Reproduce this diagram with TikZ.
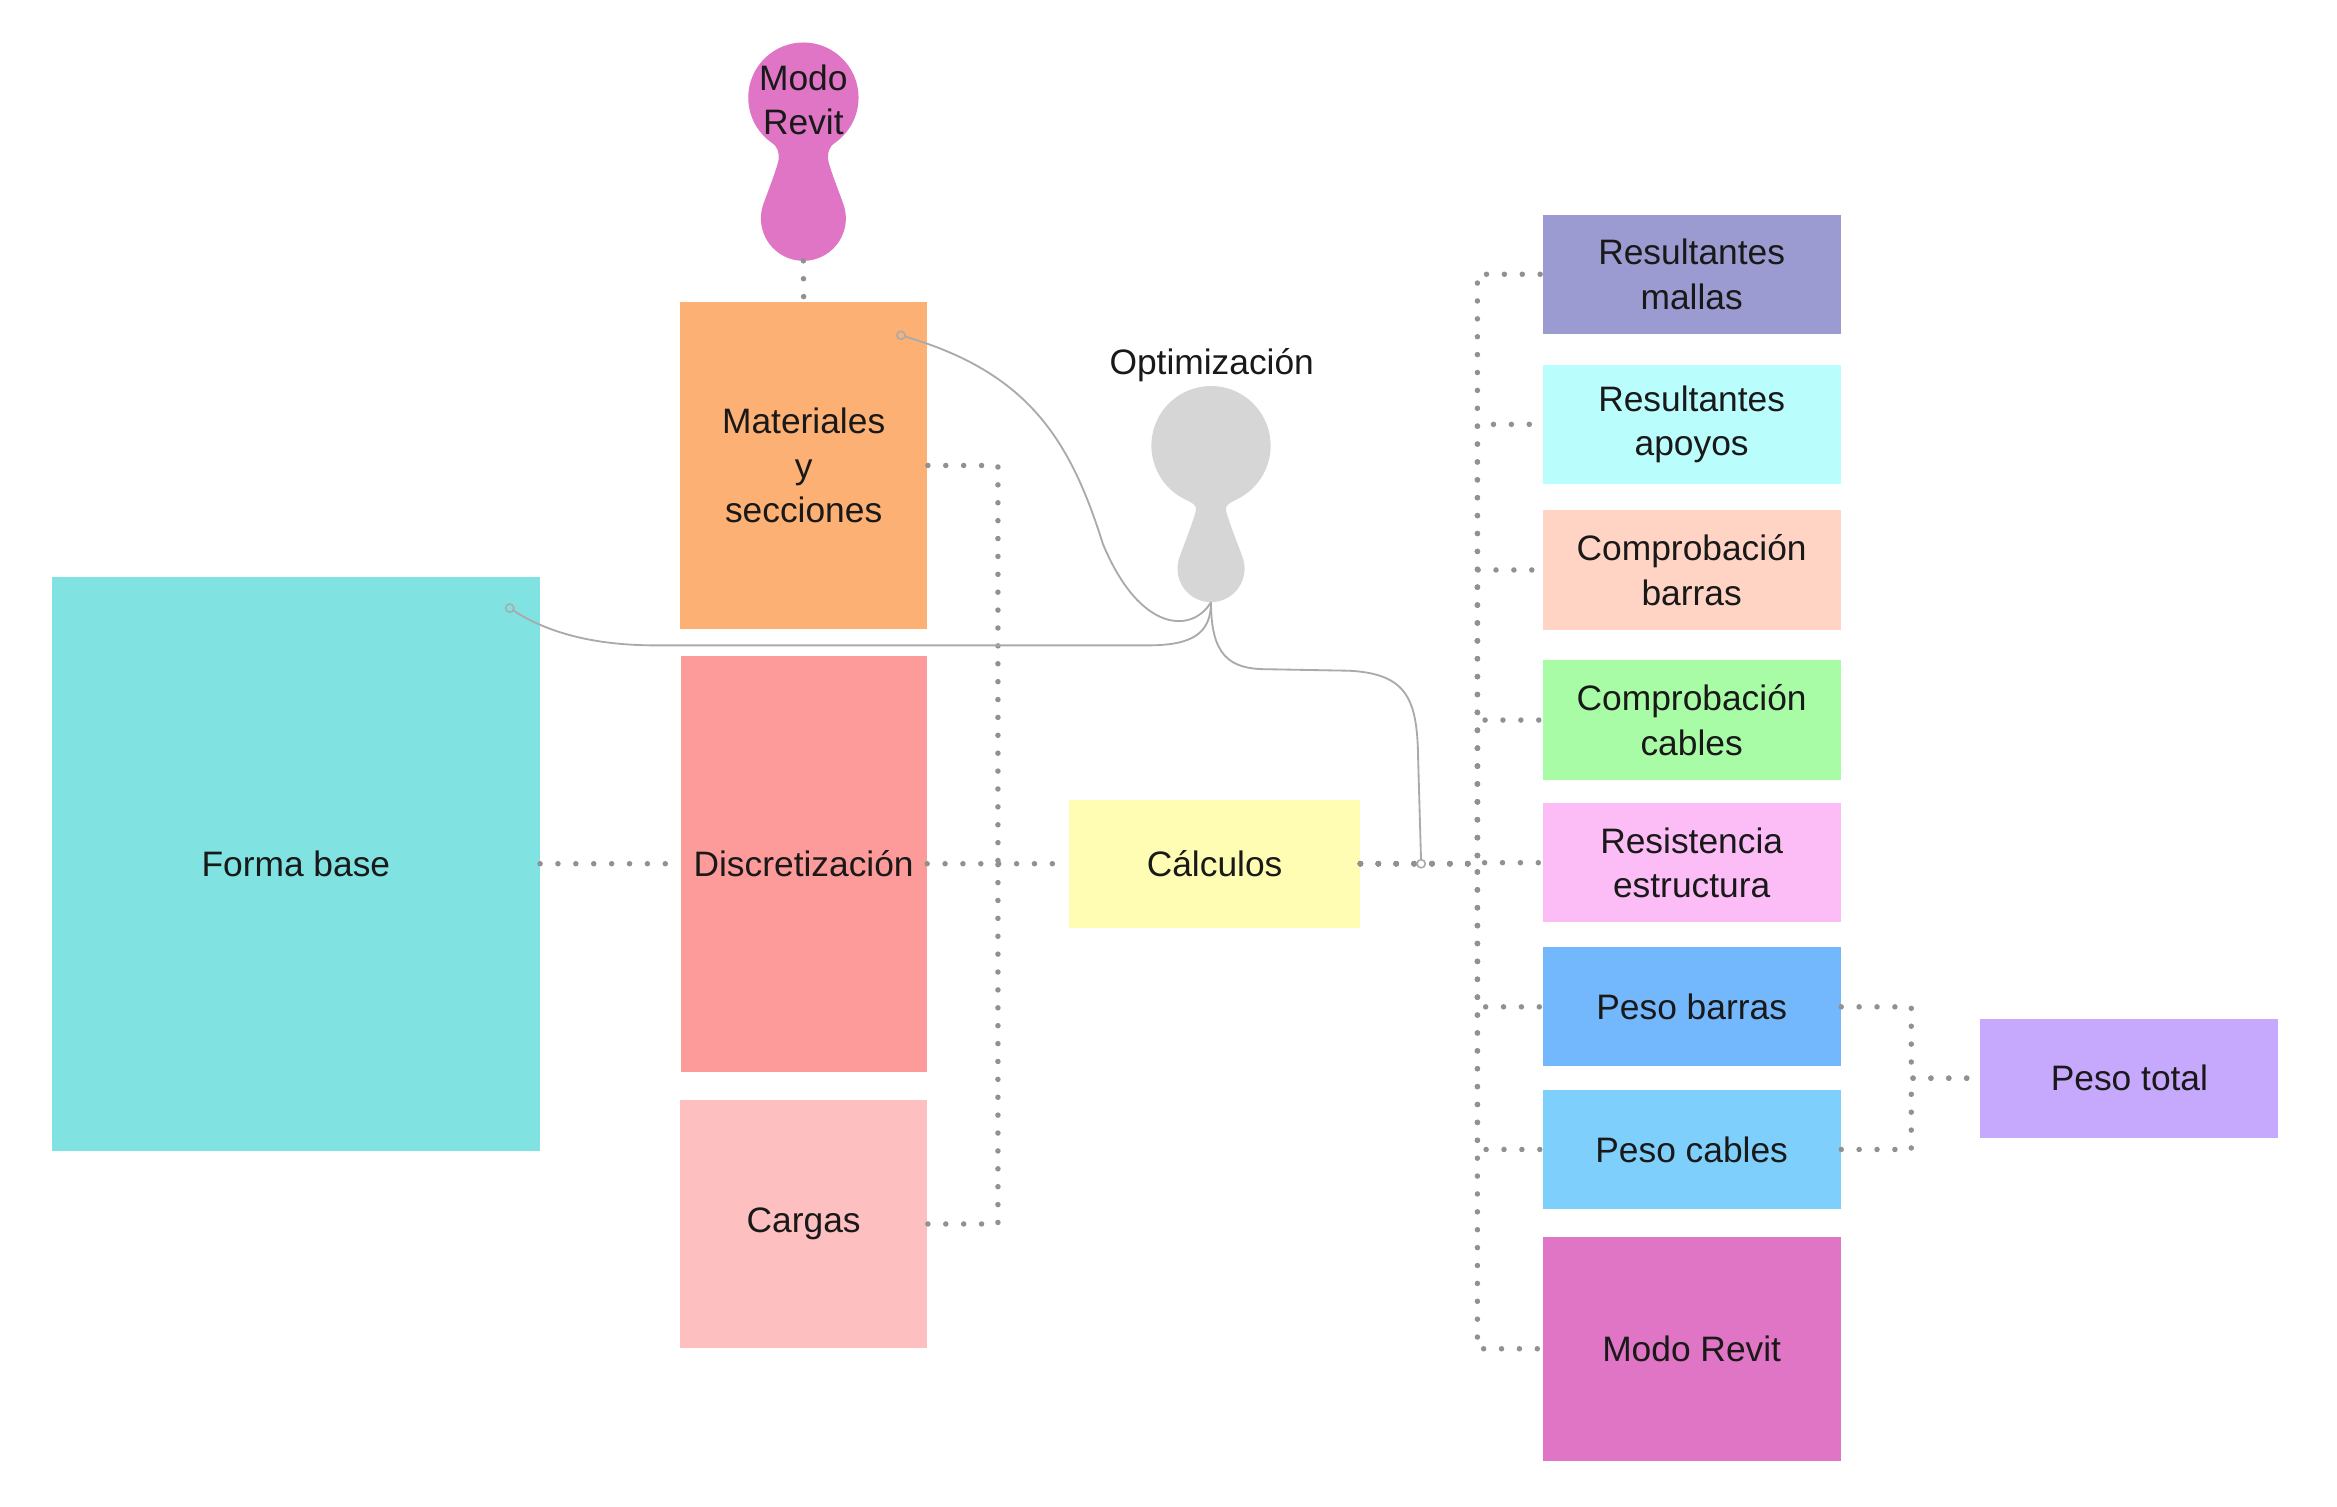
\documentclass[tikz,border=0pt]{standalone}
\usepackage{fontspec}
\setmainfont{Liberation Sans}
\usepackage{tikz}
\usetikzlibrary{positioning,calc}

\definecolor{formac}{RGB}{128,227,225}
\definecolor{matc}{RGB}{253,176,116}
\definecolor{discc}{RGB}{253,154,154}
\definecolor{cargc}{RGB}{253,191,191}
\definecolor{calcc}{RGB}{255,253,179}
\definecolor{revitc}{RGB}{224,116,197}
\definecolor{optc}{RGB}{214,214,214}
\definecolor{mallc}{RGB}{155,155,209}
\definecolor{apoyc}{RGB}{186,253,253}
\definecolor{cbarc}{RGB}{255,212,196}
\definecolor{ccabc}{RGB}{168,252,165}
\definecolor{resic}{RGB}{252,188,246}
\definecolor{pbarc}{RGB}{115,183,253}
\definecolor{pcabc}{RGB}{127,207,253}
\definecolor{ptotc}{RGB}{198,169,252}
\definecolor{dotgray}{RGB}{145,145,145}
\definecolor{linkgray}{RGB}{170,170,170}

\begin{document}
\begin{tikzpicture}[
  box/.style={rectangle, inner sep=2pt, align=center,
    font=\fontsize{13.5}{17}\selectfont, text=black!90},
  colbox/.style={box, minimum width=4cm, minimum height=1.6cm},
  dotline/.style={draw=dotgray, line width=2.1pt, line cap=round,
    dash pattern=on 0pt off 6.83pt},
  link/.style={draw=linkgray, line width=0.7pt},
  pin/.style={draw=linkgray, line width=0.6pt},
]
  \path[fill=white] (0,0) rectangle (31.36,-20.22);

  % left block
  \node[box, fill=formac, minimum width=6.54cm, minimum height=7.7cm]
    (forma) at (3.97,-11.59) {Forma base};
  \node[box, fill=discc, minimum width=3.3cm, minimum height=5.58cm,
    right=1.88cm of forma] (disc) {Discretización};
  \node[box, fill=matc, minimum width=3.32cm, minimum height=4.4cm,
    above=0.34cm of disc] (mat) {Materiales\\y\\secciones};
  \node[box, fill=cargc, minimum width=3.32cm, minimum height=3.34cm,
    below=0.36cm of disc] (cargas) {Cargas};
  \node[box, fill=calcc, minimum width=3.9cm, minimum height=1.72cm,
    right=1.9cm of disc] (calc) {Cálculos};

  % blobs
  \fill[revitc] (10.356,-1.916) arc[start angle=-125, end angle=-415, radius=0.74]
    .. controls (11.122,-1.973) and (11.11,-2.04) .. (11.11,-2.12)
    .. controls (11.11,-2.2) and (11.248,-2.547) .. (11.316,-2.735)
    arc[start angle=20, end angle=-200, radius=0.57]
    .. controls (10.312,-2.547) and (10.45,-2.2) .. (10.45,-2.12)
    .. controls (10.45,-2.04) and (10.438,-1.973) .. cycle;
  \node[box] (revit) at (10.78,-1.34) {Modo\\Revit};
  \coordinate (revit-bot) at (10.78,-3.5);

  \fill[optc] (15.912,-6.705) arc[start angle=-115, end angle=-425, radius=0.8]
    .. controls (16.498,-6.747) and (16.45,-6.78) .. (16.45,-6.83)
    .. controls (16.45,-6.9) and (16.605,-7.288) .. (16.673,-7.476)
    arc[start angle=20, end angle=-200, radius=0.45]
    .. controls (15.895,-7.288) and (16.05,-6.9) .. (16.05,-6.83)
    .. controls (16.05,-6.78) and (16.002,-6.747) .. cycle;
  \node[box] (opt) at (16.26,-4.9) {Optimización};
  \coordinate (opt-bot) at (16.25,-8.08);

  % right column
  \node[colbox, fill=mallc] (r1) at (22.7,-3.68) {Resultantes\\mallas};
  \node[colbox, fill=apoyc, below=0.4cm of r1] (r2) {Resultantes\\apoyos};
  \node[colbox, fill=cbarc, below=0.34cm of r2] (r3) {Comprobación\\barras};
  \node[colbox, fill=ccabc, below=0.4cm of r3] (r4) {Comprobación\\cables};
  \node[colbox, fill=resic, below=0.3cm of r4] (r5) {Resistencia\\estructura};
  \node[colbox, fill=pbarc, below=0.32cm of r5] (r6) {Peso barras};
  \node[colbox, fill=pcabc, below=0.3cm of r6] (r7) {Peso cables};
  \node[colbox, fill=revitc, minimum height=3cm, below=0.36cm of r7] (r8)
    {Modo Revit};
  \coordinate (pmid) at ($(r6.east)!0.5!(r7.east)$);
  \node[colbox, fill=ptotc, right=1.86cm of pmid] (ptot) {Peso total};

  % dotted relations
  \coordinate (lbus) at ($(disc.east)!0.5!(calc.west)$);
  \draw[dotline] (revit-bot) -- (mat.north);
  \draw[dotline] (forma.east) -- (disc.west);
  \draw[dotline] (mat.east) -| (lbus);
  \draw[dotline] (disc.east) -- (calc.west);
  \draw[dotline] (cargas.east) -| (lbus);
  \draw[dotline] (calc.east) -- ++(1.57,0) |- (r1.west);
  \draw[dotline] (calc.east) -- ++(1.57,0) |- (r2.west);
  \draw[dotline] (calc.east) -- ++(1.57,0) |- (r3.west);
  \draw[dotline] (calc.east) -- ++(1.57,0) |- (r4.west);
  \draw[dotline] (calc.east) -- ++(1.57,0) |- (r5.west);
  \draw[dotline] (calc.east) -- ++(1.57,0) |- (r6.west);
  \draw[dotline] (calc.east) -- ++(1.57,0) |- (r7.west);
  \draw[dotline] (calc.east) -- ++(1.57,0) |- (r8.west);
  \draw[dotline] (r6.east) -- ++(0.94,0) |- (ptot.west);
  \draw[dotline] (r7.east) -- ++(0.94,0) |- (ptot.west);

  % optimization links
  \coordinate (mat-pin) at (12.09,-4.5);
  \coordinate (forma-pin) at (6.84,-8.16);
  \coordinate (calc-pin) at (19.07,-11.59);
  \draw[link, shorten >=0.055cm] (opt-bot)
    .. controls (16.0,-8.5) and (15.3,-8.5) .. (14.8,-7.3)
    .. controls (14.36,-5.9) and (13.8,-5.0) .. (mat-pin);
  \draw[link, shorten >=0.055cm] (opt-bot)
    .. controls (16.25,-8.5) and (16.0,-8.66) .. (15.4,-8.66)
    -- (8.8,-8.66) .. controls (7.9,-8.66) and (7.3,-8.46) .. (forma-pin);
  \draw[link, shorten >=0.055cm] (opt-bot)
    .. controls (16.25,-8.8) and (16.5,-8.98) .. (17.0,-8.98)
    -- (18.1,-9.0) .. controls (18.9,-9.04) and (19.02,-9.4) .. (19.03,-10.2)
    -- (calc-pin);
  \draw[pin] (mat-pin) circle (0.055);
  \draw[pin] (forma-pin) circle (0.055);
  \draw[pin] (calc-pin) circle (0.055);
\end{tikzpicture}
\end{document}
